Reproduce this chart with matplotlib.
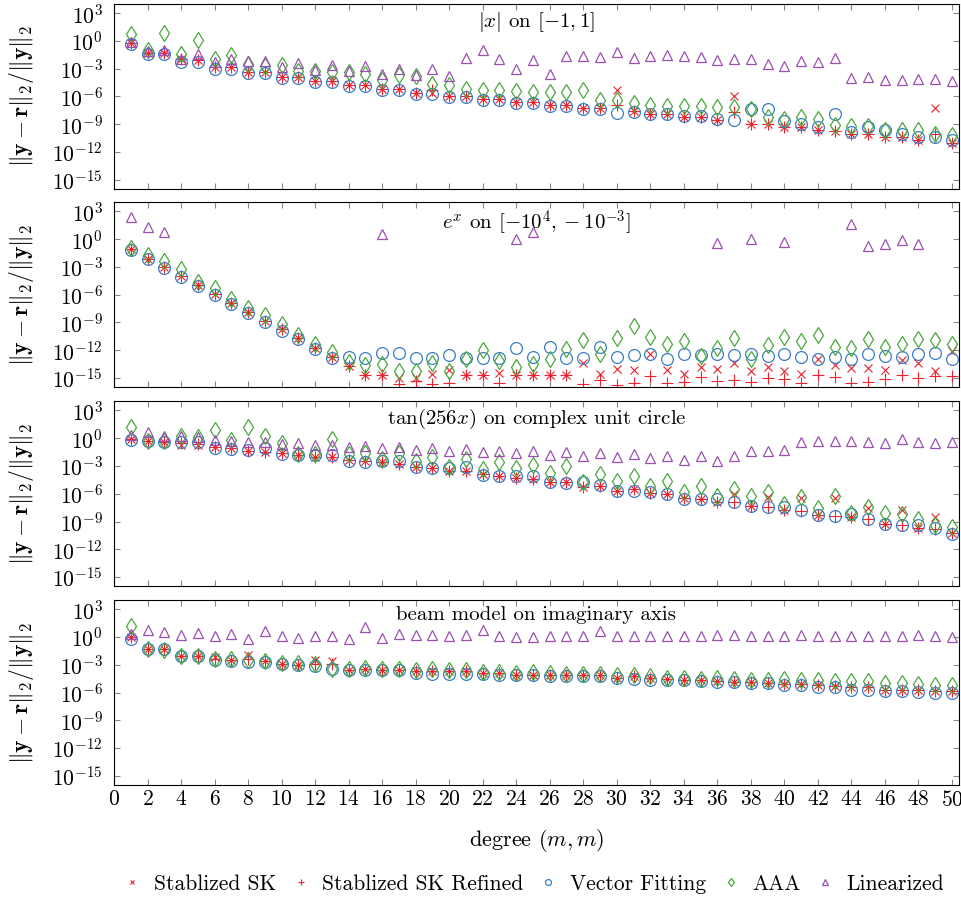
"""
Relative residual of the rational approximants versus degree, four test problems.
"""
import numpy as np
import matplotlib
matplotlib.use('Agg')
import matplotlib.pyplot as plt
from matplotlib.ticker import FixedLocator, LogFormatterSciNotation

plt.rcParams['font.family'] = 'serif'
plt.rcParams['font.serif'] = ['cmr10', 'DejaVu Serif']
plt.rcParams['mathtext.fontset'] = 'cm'
plt.rcParams['axes.formatter.use_mathtext'] = True
plt.rcParams['axes.unicode_minus'] = False
plt.rcParams['font.size'] = 14

degrees = np.arange(1, 51)
nan = np.nan

# values are log10 of the relative residual
# panel 1: |x| on [-1, 1]
abs_sk = [-0.2, -1.3, -1.3, -2.0, -2.1, -2.8, -2.8, -3.35, -3.35, -3.9,
          -3.9, -4.35, -4.35, -4.8, -4.8, -5.18, -5.18, -5.6, -5.6, -6.0,
          -5.9, -6.3, -6.3, -6.6, -6.6, -6.95, -6.95, -7.2, -7.2, -5.25,
          -7.6, -7.85, -7.9, -8.2, -8.2, -8.5, -5.97, -9.0, -9.0, -9.35,
          -9.28, -9.64, -9.7, -10.0, -10.0, -10.36, -10.36, -10.7, -7.2, -11.0]
abs_skr = [-0.2, -1.3, -1.3, -2.0, -2.1, -2.8, -2.8, -3.35, -3.35, -3.9,
           -3.9, -4.35, -4.35, -4.8, -4.8, -5.18, -5.18, -5.6, -5.35, -6.0,
           -5.9, -6.3, -6.3, -6.6, -6.6, -6.95, -6.95, -7.2, -7.2, -6.94,
           -7.6, -7.85, -7.9, -8.2, -8.2, -8.5, -7.66, -9.0, -9.0, -9.35,
           -9.28, -9.64, -9.7, -10.0, -10.0, -10.36, -10.36, -10.7, -10.1, -11.0]
abs_vf = [-0.36, -1.44, -1.44, -2.27, -2.27, -3.0, -3.0, -3.45, -3.45, -3.96,
          -3.96, -4.4, -4.4, -4.86, -4.86, -5.25, -5.25, -5.7, -5.7, -6.04,
          -6.04, -6.4, -6.4, -6.7, -6.7, -7.05, -7.05, -7.3, -7.3, -7.77,
          -7.66, -7.9, -7.9, -8.1, -8.1, -8.4, -8.56, -7.3, -7.3, -8.6,
          -9.0, -9.28, -7.84, -9.82, -9.28, -9.57, -10.07, -10.36, -10.36, -10.7]
abs_aaa = [0.8, -0.94, 0.9, -1.44, 0.07, -2.0, -1.55, -2.45, -2.7, -2.6,
           -3.2, -3.2, -3.35, -3.35, -3.6, -4.17, -3.7, -3.8, -4.6, -4.8,
           -5.15, -5.3, -5.3, -5.4, -5.5, -5.5, -5.5, -5.25, -6.4, -6.4,
           -6.7, -6.94, -7.05, -7.05, -7.05, -7.1, -7.1, -7.3, -8.2, -8.38,
           -8.2, -8.38, -9.1, -9.2, -9.2, -9.57, -9.57, -9.57, -10.0, -10.2]
abs_lin = [-0.1, -1.1, -1.0, -1.9, -1.44, -2.27, -1.9, -2.16, -2.16, -2.8,
           -2.37, -3.1, -2.55, -3.27, -2.73, -3.53, -3.0, -3.7, -3.06, -3.8,
           -1.83, -0.94, -1.9, -3.06, -2.1, -3.53, -1.65, -1.65, -1.73, -1.19,
           -1.8, -1.65, -1.55, -1.65, -1.73, -2.1, -2.0, -2.0, -2.5, -2.73,
           -2.16, -2.27, -1.8, -4.0, -3.9, -4.25, -4.25, -4.06, -4.06, -4.3]

# panel 2: e^x on [-1e4, -1e-3]
exp_sk = [-1.08, -2.1, -3.0, -3.97, -4.95, -5.96, -6.86, -7.83, -8.84, -9.75,
          -10.72, -11.73, -12.74, -13.7, -14.7, -14.7, -14.95, -14.95, -14.55, -14.1,
          -14.7, -14.7, -14.5, -14.7, -14.7, -14.7, -14.7, -13.36, -14.6, -14.08,
          -14.15, -12.45, -14.15, -14.55, -13.8, -14.08, -13.4, -14.26, -13.8, -14.26,
          -14.6, -12.92, -13.6, -13.9, -13.97, -14.15, -13.07, -13.36, -14.19, -12.1]
exp_skr = [-1.08, -2.1, -3.0, -3.97, -4.95, -5.96, -6.86, -7.83, -8.84, -9.75,
           -10.72, -11.73, -12.74, -13.7, -14.7, -14.7, -15.6, -15.3, -15.6, -15.5,
           -14.7, -14.7, -15.5, -14.7, -14.7, -14.7, -14.7, -15.6, -15.27, -15.8,
           -15.5, -14.8, -15.5, -15.4, -14.9, -15.34, -15.27, -15.45, -14.98, -15.16,
           -15.5, -14.7, -14.9, -15.5, -15.4, -15.16, -14.7, -15.0, -14.8, -14.8]
exp_vf = [-1.2, -2.17, -3.14, -4.08, -5.05, -6.03, -6.97, -7.94, -8.95, -9.93,
          -10.83, -11.84, -12.8, -12.74, -12.8, -12.27, -12.27, -12.8, -12.8, -12.56,
          -12.8, -12.8, -12.8, -11.73, -12.74, -11.66, -12.8, -12.8, -11.66, -12.74,
          -12.5, -12.45, -12.92, -12.45, -12.56, -12.45, -12.5, -12.45, -12.6, -12.45,
          -12.7, -13.0, -12.74, -12.92, -12.38, -12.6, -12.74, -12.38, -12.27, -12.92]
exp_aaa = [-0.9, -1.7, -2.35, -3.25, -4.58, -5.3, -6.43, -7.4, -8.2, -9.13,
           -10.36, -11.37, -12.2, -13.25, -13.6, -13.5, -14.26, -14.26, -13.36, -14.2,
           -13.0, -12.0, -13.2, -13.8, -13.5, -12.9, -11.9, -10.9, -12.45, -10.7,
           -9.39, -10.58, -11.37, -11.0, -12.6, -11.73, -10.7, -13.0, -11.44, -10.54,
           -11.0, -10.36, -11.66, -11.73, -10.83, -11.66, -11.37, -10.83, -10.94, -11.3]
exp_lin = [2.35, 1.37, 0.83, nan, nan, nan, nan, nan, nan, nan,
           nan, nan, nan, nan, nan, 0.54, nan, nan, nan, nan,
           nan, nan, nan, 0.0, 0.8, nan, nan, nan, nan, nan,
           nan, nan, nan, nan, nan, -0.36, nan, 0.0, nan, -0.29,
           nan, nan, nan, 1.62, -0.72, -0.47, -0.1, -0.47, nan, nan]

# panel 3: tan(256x) on complex unit circle
tan_sk = [-0.07, -0.25, -0.36, -0.7, -0.75, -0.97, -1.1, -1.33, -1.44, -1.62,
          -1.76, -2.05, -1.98, -2.34, -2.45, -2.59, -2.77, -3.13, -3.24, -3.49,
          -3.56, -3.85, -4.03, -4.32, -4.39, -4.68, -4.75, -5.29, -5.18, -5.65,
          -5.54, -5.9, -6.0, -6.47, -6.55, -6.9, -6.0, -7.34, -6.37, -7.8,
          -6.47, -8.3, -6.47, -8.53, -7.55, -9.24, -7.8, -9.71, -8.53, -10.2]
tan_skr = [-0.07, -0.25, -0.36, -0.55, -0.6, -0.97, -1.1, -1.33, -1.44, -1.62,
           -1.76, -2.05, -1.98, -2.34, -2.45, -2.59, -2.77, -3.13, -3.24, -3.49,
           -3.56, -3.85, -4.03, -4.32, -4.39, -4.68, -4.75, -5.29, -5.18, -5.65,
           -5.54, -5.9, -6.0, -6.47, -6.55, -6.9, -6.9, -7.34, -7.45, -7.8,
           -7.91, -8.3, -8.42, -8.53, -8.78, -9.24, -9.35, -9.71, -9.78, -10.2]
tan_vf = [-0.14, -0.25, -0.43, -0.43, -0.43, -1.04, -1.15, -1.22, -1.08, -1.69,
          -1.76, -1.76, -1.76, -2.41, -2.52, -2.48, -2.48, -3.13, -3.24, -3.24,
          -3.13, -3.96, -4.03, -4.03, -4.03, -4.68, -4.82, -4.68, -5.1, -5.65,
          -5.65, -5.76, -6.0, -6.55, -6.55, -6.55, -6.9, -7.34, -7.45, -7.45,
          -7.8, -8.35, -8.42, -8.17, -8.78, -9.24, -9.35, -9.35, -9.71, -10.3]
tan_aaa = [1.26, -0.25, -0.3, 0.29, 0.1, 0.9, -0.14, 1.19, 0.29, -0.5,
           -1.7, -1.69, -0.07, -1.69, -1.58, -2.23, -1.58, -2.41, -1.98, -3.13,
           -2.23, -3.31, -2.52, -3.24, -2.88, -3.78, -2.95, -4.68, -3.85, -4.57,
           -4.03, -5.18, -4.57, -5.83, -5.18, -6.19, -5.47, -6.26, -5.83, -7.09,
           -6.37, -7.55, -6.19, -8.06, -7.45, -8.06, -8.17, -8.78, -9.35, -9.6]
tan_lin = [0.3, 0.65, 0.22, 0.29, 0.1, -0.18, -0.25, -0.43, -0.36, -0.61,
           -0.5, -0.72, -0.72, -0.97, -0.79, -1.08, -0.9, -1.26, -1.08, -1.33,
           -1.15, -1.51, -1.33, -1.62, -1.4, -1.76, -1.51, -1.87, -1.62, -2.05,
           -1.69, -2.12, -1.87, -2.3, -1.87, -2.41, -1.87, -1.37, -1.37, -1.22,
           -0.36, -0.25, -0.25, -0.25, -0.43, -0.5, -0.07, -0.36, -0.5, -0.43]

# panel 4: beam model on imaginary axis
beam_sk = [0.0, -1.26, -1.26, -2.05, -2.09, -2.16, -2.52, -1.98, -2.63, -2.95,
           -3.06, -2.52, -2.63, -3.53, -3.42, -3.53, -3.53, -3.67, -3.67, -3.71,
           -3.71, -3.88, -3.88, -4.06, -4.14, -4.14, -4.14, -4.14, -4.14, -4.39,
           -4.24, -4.39, -4.5, -4.6, -4.68, -4.75, -4.86, -4.86, -4.96, -5.1,
           -5.1, -5.22, -5.32, -5.4, -5.4, -5.68, -5.68, -5.76, -5.83, -5.83]
beam_skr = [0.0, -1.26, -1.26, -2.05, -2.09, -2.34, -2.52, -2.34, -2.63, -2.95,
            -3.06, -2.88, -2.88, -3.53, -3.42, -3.53, -3.53, -3.67, -3.67, -3.71,
            -3.71, -3.88, -3.88, -4.06, -4.14, -4.14, -4.14, -4.14, -4.14, -4.39,
            -4.24, -4.39, -4.5, -4.6, -4.68, -4.75, -4.86, -4.86, -4.96, -5.1,
            -5.1, -5.22, -5.32, -5.4, -5.4, -5.68, -5.68, -5.76, -5.83, -5.83]
beam_vf = [-0.18, -1.33, -1.33, -2.09, -2.09, -2.52, -2.59, -2.7, -2.7, -2.95,
           -3.06, -3.17, -3.42, -3.53, -3.53, -3.53, -3.6, -3.88, -3.96, -3.96,
           -3.96, -4.03, -4.06, -4.14, -4.14, -4.24, -4.24, -4.24, -4.24, -4.39,
           -4.5, -4.6, -4.6, -4.68, -4.75, -4.86, -4.86, -4.96, -4.96, -5.2,
           -5.2, -5.4, -5.4, -5.68, -5.68, -5.83, -5.83, -5.94, -6.04, -6.04]
beam_aaa = [1.19, -1.26, -1.37, -2.05, -2.05, -2.41, -2.41, -2.52, -2.59, -2.81,
            -2.81, -2.95, -3.42, -3.42, -3.31, -3.42, -3.42, -3.6, -3.42, -3.6,
            -3.6, -3.78, -3.78, -3.88, -3.78, -3.88, -3.96, -3.96, -3.96, -4.14,
            -4.14, -4.24, -4.39, -4.39, -4.5, -4.39, -4.5, -4.6, -4.68, -4.5,
            -4.6, -4.68, -4.75, -4.75, -4.75, -4.96, -4.96, -5.03, -5.2, -5.2]
beam_lin = [0.3, 0.72, 0.54, 0.25, 0.43, 0.11, 0.36, -0.18, 0.61, 0.07,
            -0.11, 0.11, 0.11, -0.25, 1.08, -0.11, 0.36, 0.25, 0.25, 0.11,
            0.25, 0.79, 0.11, 0.0, 0.0, 0.11, 0.11, 0.11, 0.61, 0.11,
            0.11, 0.11, 0.11, 0.11, 0.11, 0.18, 0.18, 0.11, 0.11, 0.11,
            0.25, 0.11, 0.11, 0.11, 0.11, 0.11, 0.11, 0.18, 0.11, 0.0]

panel_titles = [r'$|x|$ on $[-1,1]$',
                r'$e^x$ on $[-10^4,-10^{-3}]$',
                r'$\tan(256x)$ on complex unit circle',
                'beam model on imaginary axis']
panels = [
    (abs_sk, abs_skr, abs_vf, abs_aaa, abs_lin),
    (exp_sk, exp_skr, exp_vf, exp_aaa, exp_lin),
    (tan_sk, tan_skr, tan_vf, tan_aaa, tan_lin),
    (beam_sk, beam_skr, beam_vf, beam_aaa, beam_lin),
]
method_names = ['Stablized SK', 'Stablized SK Refined', 'Vector Fitting', 'AAA', 'Linearized']

# marker style per method
styles = [
    dict(marker='x', color='#e8202a', ms=5.5, mew=0.8),
    dict(marker='+', color='#f02030', ms=8, mew=0.8),
    dict(marker='o', mfc='none', mec='#3b7dc4', ms=8.5, mew=0.9),
    dict(marker='d', mfc='none', mec='#4aa83e', ms=8.5, mew=0.9),
    dict(marker='^', mfc='none', mec='#9b4fb0', ms=7.5, mew=0.9),
]

fig = plt.figure(figsize=(9.62, 9.01), dpi=100)

left, width = 0.1185, 0.878
bottoms = [0.7902, 0.5702, 0.3493, 0.1287]
height = 0.2054

handles = []
for i, (series, title) in enumerate(zip(panels, panel_titles)):
    ax = fig.add_axes([left, bottoms[i], width, height])
    for vals, st, name in zip(series, styles, method_names):
        h, = ax.plot(degrees, 10.0 ** np.array(vals), ls='none', label=name, **st)
        if i == 0:
            handles.append(h)
    ax.set_yscale('log')
    ax.set_ylim(1e-16, 1e4)
    ax.set_xlim(0, 50.4)
    ax.yaxis.set_major_locator(FixedLocator([10.0 ** k for k in range(3, -16, -3)]))
    ax.yaxis.set_major_formatter(LogFormatterSciNotation())
    ax.yaxis.set_minor_locator(FixedLocator([]))
    ax.set_xticks(np.arange(0, 51, 2))
    ax.tick_params(direction='in', which='both', top=True, right=True,
                   color='#888888', length=4, labelsize=15.5)
    ax.tick_params(axis='y', pad=8)
    if i < 3:
        ax.tick_params(labelbottom=False)
    ax.set_ylabel(r'$\|\mathbf{y}-\mathbf{r}\|_2/\|\mathbf{y}\|_2$', fontsize=17)
    ax.yaxis.set_label_coords(-0.092, 0.5)
    ax.text(0.5, 0.97, title, transform=ax.transAxes, ha='center', va='top', fontsize=15)
    for sp in ax.spines.values():
        sp.set_linewidth(0.8)

ax.set_xlabel(r'degree $(m,m)$', fontsize=16, labelpad=12)

fig.legend(handles=handles, loc='center', bbox_to_anchor=(0.555, 0.019), ncol=5,
           frameon=False, fontsize=15.5, markerscale=0.5, handlelength=0.8,
           handletextpad=0.6, columnspacing=0.75)

fig.savefig('out.png', dpi=100)
